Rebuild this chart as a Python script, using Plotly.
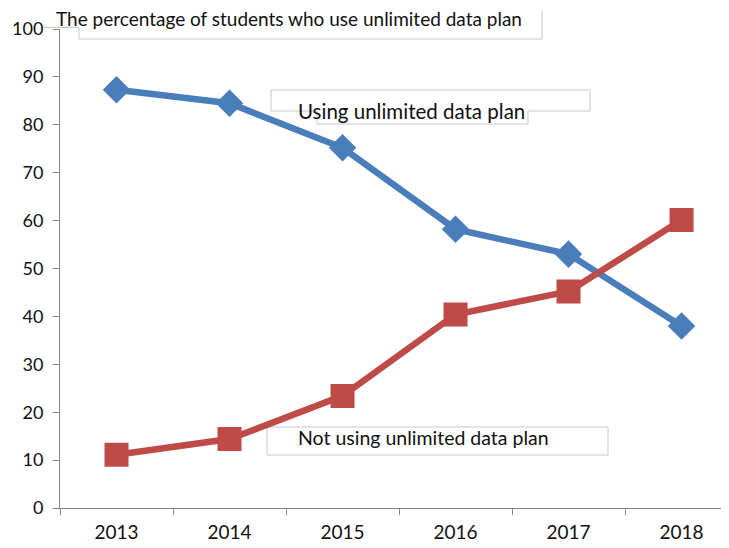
import plotly.graph_objects as go

years = ["2013", "2014", "2015", "2016", "2017", "2018"]
using = [87.3, 84.5, 75.2, 58.2, 53.0, 38.0]
not_using = [11.1, 14.4, 23.4, 40.4, 45.2, 60.1]
y_ticks = [0, 10, 20, 30, 40, 50, 60, 70, 80, 90, 100]

title_text = "The percentage of students who use unlimited data plan"
label_using = "Using unlimited data plan"
label_not = "Not using unlimited data plan"

# the page body has an 8px margin; the figure is sized so it fills the window
OFF = 8
WIN_W, WIN_H = 729, 548
W, H = WIN_W - OFF, WIN_H - OFF
# plot area in window pixels
PX0, PX1, PY0, PY1 = 60, 729, 29, 508
L, R, T, B = PX0 - OFF, WIN_W - PX1, PY0 - OFF, WIN_H - PY1


def px(x):
    return (x - PX0) / (PX1 - PX0)


def py(y):
    return (PY1 - y) / (PY1 - PY0)


def path(points, close=False):
    s = "M " + " L ".join(f"{px(a):.5f},{py(b):.5f}" for a, b in points)
    return s + (" Z" if close else "")


blue = "#4A7EBB"
red = "#BE4B48"
font = "Lato"

fig = go.Figure()
fig.add_trace(go.Scatter(
    x=years, y=using, mode="lines+markers",
    line=dict(color=blue, width=6.5),
    marker=dict(symbol="diamond", size=19, color=blue, line=dict(color=blue, width=2)),
    showlegend=False,
))
fig.add_trace(go.Scatter(
    x=years, y=not_using, mode="lines+markers",
    line=dict(color=red, width=6.5),
    marker=dict(symbol="square", size=22, color=red, line=dict(color=red, width=2)),
    showlegend=False,
))

box_line = dict(color="#c8c8c8", width=1)
shapes = [
    dict(type="path", xref="paper", yref="paper", layer="below", line=box_line,
         path=path([(44, 27.5), (79, 27.5), (79, 39), (542, 39), (542, 10)])),
    dict(type="path", xref="paper", yref="paper", layer="below", line=box_line,
         fillcolor="white",
         path=path([(271, 90), (590, 90), (590, 111), (528, 111), (528, 124),
                    (317, 124), (317, 111), (271, 111)], close=True)),
    dict(type="rect", xref="paper", yref="paper", layer="below", line=box_line,
         fillcolor="white",
         x0=px(267), x1=px(608), y0=py(455), y1=py(427)),
]

annotations = [
    dict(text=title_text, xref="paper", yref="paper", x=px(54), y=py(18.5),
         xanchor="left", yanchor="middle", showarrow=False,
         font=dict(family=font, size=19, color="#111111")),
    dict(text=label_using, xref="paper", yref="paper", x=px(296), y=py(111),
         xanchor="left", yanchor="middle", showarrow=False,
         font=dict(family=font, size=20.5, color="#111111")),
    dict(text=label_not, xref="paper", yref="paper", x=px(296), y=py(437),
         xanchor="left", yanchor="middle", showarrow=False,
         font=dict(family=font, size=19.5, color="#111111")),
]

axis_color = "#868686"
fig.update_layout(
    width=W, height=H,
    margin=dict(l=L, r=R, t=T, b=B, pad=0, autoexpand=False),
    plot_bgcolor="white", paper_bgcolor="white",
    shapes=shapes, annotations=annotations,
    xaxis=dict(type="category", range=[-0.5, 5.42], tickson="boundaries",
               ticks="outside", ticklen=6, tickcolor=axis_color,
               showline=True, linecolor=axis_color, linewidth=1,
               showgrid=False, zeroline=False, ticklabelstandoff=7,
               tickfont=dict(family=font, size=19, color="#111111")),
    yaxis=dict(range=[0, 100], tickmode="array", tickvals=y_ticks,
               ticks="outside", ticklen=6, tickcolor=axis_color,
               showline=True, linecolor=axis_color, linewidth=1,
               showgrid=False, zeroline=False, ticklabelstandoff=6,
               tickfont=dict(family=font, size=18, color="#111111")),
)

fig.write_html("out.html")
